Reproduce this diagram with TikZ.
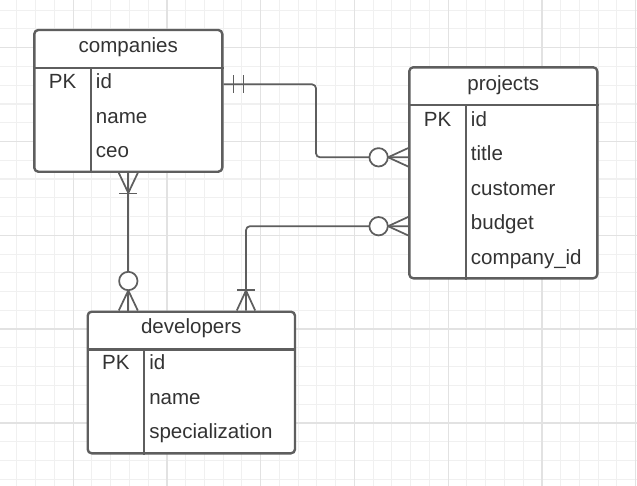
\documentclass[tikz,border=0pt]{standalone}
\usepackage{fontspec}
\setmainfont{Liberation Sans}
\usepackage{tikz}
\usetikzlibrary{fit}
\usetikzlibrary{positioning}

\definecolor{edge}{HTML}{5E5E5E}
\definecolor{ink}{HTML}{333333}
\definecolor{gridminor}{HTML}{F0F0F0}
\definecolor{gridmajor}{HTML}{E2E2E2}

\begin{document}
\begin{tikzpicture}[
            x = 0.75pt, % one pixel
            y = -0.75pt, % y goes down
            line join = round,
            font = \fontsize{15.4}{18}\selectfont
        ]

        \tikzstyle{entity}=[
            draw = edge,
            fill = white,
            line width = 1.8pt,
            rounded corners = 3pt,
            inner sep = 0pt
        ]
        \tikzstyle{sep}=[draw = edge, line width = 1.8pt]
        \tikzstyle{rel}=[draw = edge, line width = 1.3pt]
        \tikzstyle{title}=[anchor = base, inner sep = 0pt, text = ink]
        \tikzstyle{key}=[anchor = base, inner sep = 0pt, text = ink]
        \tikzstyle{field}=[anchor = base west, inner sep = 0pt, text = ink]

        \useasboundingbox (0,0) rectangle (637,486);

	% grid
        \fill[white] (0,0) rectangle (637,486);
        \foreach \k in {0,...,33}
            \draw[gridminor, line width = 0.8pt] (16.95+18.75*\k,0) -- (16.95+18.75*\k,486);
        \foreach \k in {0,...,25}
            \draw[gridminor, line width = 0.8pt] (0,10.18+18.76*\k) -- (637,10.18+18.76*\k);
        \foreach \k in {0,...,6}
            \draw[gridmajor, line width = 1pt] (73.2+93.75*\k,0) -- (73.2+93.75*\k,486);
        \foreach \k in {0,...,4}
            \draw[gridmajor, line width = 1pt] (0,47.7+93.8*\k) -- (637,47.7+93.8*\k);

	% companies
        \node[entity, fit = {(34.3,30) (222.3,171.7)}] (companies) {};
        \draw[sep] (companies.west |- 0,67.7) -- (companies.east |- 0,67.7);
        \draw[sep] (90.7,67.7) -- (companies.south -| 90.7,0);
        \node[title] (companies-title) at (128.3,52.7) {companies};
        \node[key] (companies-pk) at (62.5,88.5) {PK};
        \node[field] (companies-id) at (95.7,88.5) {id};
        \node[field] (companies-name) at (95.7,123) {name};
        \node[field] (companies-ceo) at (95.7,157.5) {ceo};

	% projects
        \node[entity, fit = {(409.3,67.3) (597.3,278.3)}] (projects) {};
        \draw[sep] (projects.west |- 0,105) -- (projects.east |- 0,105);
        \draw[sep] (465.7,105) -- (projects.south -| 465.7,0);
        \node[title] (projects-title) at (503.3,90.5) {projects};
        \node[key] (projects-pk) at (437.5,126.2) {PK};
        \node[field] (projects-id) at (470.7,126.2) {id};
        \node[field] (projects-name) at (470.7,160.7) {title};
        \node[field] (projects-customer) at (470.7,195.2) {customer};
        \node[field] (projects-budget) at (470.7,229.7) {budget};
        \node[field] (projects-company) at (470.7,264.2) {company\_id};

	% developers
        \node[entity, fit = {(87.7,311.7) (295,453.3)}] (developers) {};
        \draw[sep] (developers.west |- 0,349.3) -- (developers.east |- 0,349.3);
        \draw[sep] (144,349.3) -- (developers.south -| 144,0);
        \node[title] (developers-title) at (191.3,333.5) {developers};
        \node[key] (developers-pk) at (115.9,369.8) {PK};
        \node[field] (developers-id) at (149,369.8) {id};
        \node[field] (developers-name) at (149,404.3) {name};
        \node[field] (developers-spec) at (149,438.8) {specialization};

	% end points
        \coordinate (c-out) at (companies.east |- 0,84.3);
        \coordinate (p-in1) at (projects.west |- 0,157.3);
        \coordinate (p-in2) at (projects.west |- 0,226.2);
        \coordinate (d-in2) at (developers.north -| 246,0);
        \coordinate (c-down) at (companies.south);
        \coordinate (d-in1) at (developers.north -| companies.south);

	% companies -- projects
        \draw[rel, rounded corners = 3pt] (c-out) -| (316,157.3) -- (p-in1);
        \draw[rel] (c-out) ++(10,-9) -- ++(0,18);
        \draw[rel] (c-out) ++(20,-9) -- ++(0,18);
        \draw[rel] (p-in1) ++(0,-9.2) -- ++(-20,9.2) -- ++(20,9.2);
        \draw[rel, fill = white] (p-in1) ++(-29.5,0) circle [radius = 6.9pt];

	% projects -- developers
        \draw[rel, rounded corners = 3pt] (p-in2) -| (d-in2);
        \draw[rel] (p-in2) ++(0,-9.2) -- ++(-20,9.2) -- ++(20,9.2);
        \draw[rel, fill = white] (p-in2) ++(-29.5,0) circle [radius = 6.9pt];
        \draw[rel] (d-in2) ++(-9.2,0) -- ++(9.2,-20) -- ++(9.2,20);
        \draw[rel] (d-in2) ++(-9,-20.5) -- ++(18,0);

	% companies -- developers
        \draw[rel] (c-down) -- (d-in1);
        \draw[rel] (c-down) ++(-9.5,0) -- ++(9.5,20) -- ++(9.5,-20);
        \draw[rel] (c-down) ++(-9,20.5) -- ++(18,0);
        \draw[rel] (d-in1) ++(-9.5,0) -- ++(9.5,-20) -- ++(9.5,20);
        \draw[rel, fill = white] (d-in1) ++(0,-29.5) circle [radius = 6.9pt];

\end{tikzpicture}
\end{document}
